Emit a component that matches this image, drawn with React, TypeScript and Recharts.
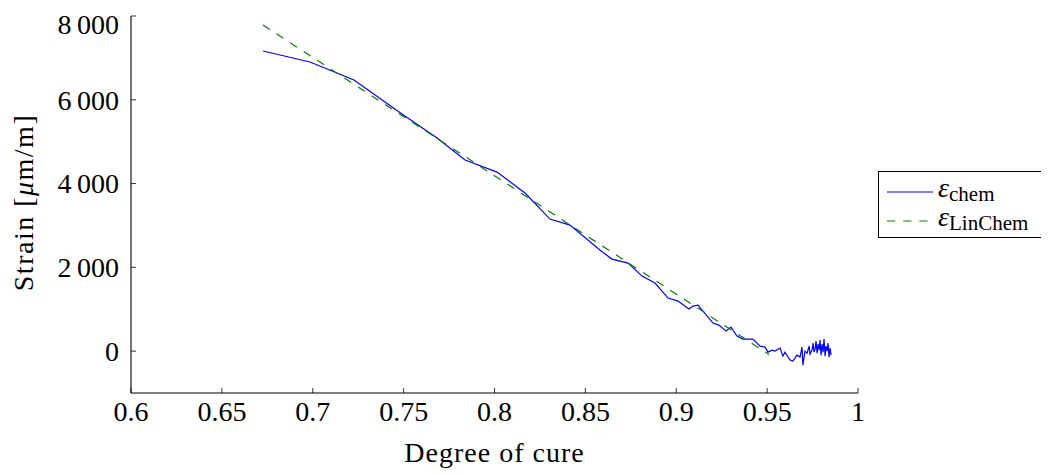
import React from 'react';
import { LineChart, Line, XAxis, YAxis, Legend } from 'recharts';

// Degree of cure (x) and chemical strain in µm/m (y)
const chemX = [
  0.6726, 0.6985, 0.7227, 0.7483, 0.7684, 0.7838, 0.8014, 0.8168, 0.8305, 0.8415,
  0.858, 0.8646, 0.8735, 0.8812, 0.8883, 0.8955, 0.901, 0.907, 0.9092, 0.912,
  0.9202, 0.9235, 0.9274, 0.9301, 0.9334, 0.9367, 0.9422, 0.9461, 0.9488, 0.9505,
  0.9527, 0.9543, 0.9571, 0.9587, 0.9598, 0.9626, 0.9642, 0.9664, 0.9681, 0.9692,
  0.9697, 0.9708, 0.972, 0.9731, 0.9736, 0.9747, 0.9753, 0.9758, 0.9764, 0.9769,
  0.9775, 0.978, 0.9786, 0.9791, 0.9797, 0.9802, 0.9808, 0.9813, 0.9819, 0.9824,
  0.983, 0.9835, 0.9841, 0.9846, 0.9852,
];
const chemY = [
  7164, 6901, 6472, 5683, 5087, 4561, 4274, 3773, 3152, 3009,
  2412, 2197, 2101, 1791, 1624, 1266, 1194, 1003, 1075, 1098,
  669, 621, 478, 573, 358, 287, 287, 119, 96, -24,
  24, 0, 72, -119, -24, -215, -239, -96, -143, 96,
  -335, 0, -48, 119, -72, 24, 191, -24, 48, 239,
  -48, 167, 24, 263, -96, 167, -24, 287, -119, 119,
  0, 191, -143, 72, -96,
];
const linChemX = [0.6726, 0.951];
const linChemY = [7785, -80];

const xTicks = [0.6, 0.65, 0.7, 0.75, 0.8, 0.85, 0.9, 0.95, 1];
const yTicks = [0, 2000, 4000, 6000, 8000];
const xLabel = 'Degree of cure';
const yLabelMain = 'Strain [';
const yLabelMu = 'μ';
const yLabelRest = 'm/m]';
const legendSubs = ['chem', 'LinChem'];

const chemData = chemX.map((x, i) => ({ x, y: chemY[i] }));
const linData = linChemX.map((x, i) => ({ x, y: linChemY[i] }));

const FONT = '"Liberation Serif", "Times New Roman", serif';
const BLUE = '#0000ff';
const GREEN = '#008000';

const fmtY = (v: number) => String(v).replace(/\B(?=(\d{3})+(?!\d))/g, '\u2009');

const YLabel = (props: any) => {
  const vb = props.viewBox || { x: 0, y: 8, width: 123, height: 377 };
  const cy = vb.y + vb.height / 2 - 2;
  const cx = 25;
  return (
    <text
      x={cx}
      y={cy}
      textAnchor="middle"
      transform={`rotate(-90, ${cx}, ${cy})`}
      fontFamily={FONT}
      fontSize={28}
      fill="#000"
      letterSpacing={1.5}
    >
      {yLabelMain}
      <tspan fontStyle="italic">{yLabelMu}</tspan>
      {yLabelRest}
    </text>
  );
};

const LegendBox = () => (
  <div style={{ position: 'absolute', left: 0, top: 0 }}>
    <svg width={167} height={68} style={{ display: 'block', overflow: 'visible' }}>
      <rect x={0.5} y={0.5} width={165} height={66} fill="#fff" stroke="#000" strokeWidth={1} />
      <line x1={9} x2={55} y1={21} y2={21} stroke={BLUE} strokeWidth={1.2} />
      <line x1={9} x2={55} y1={50} y2={50} stroke={GREEN} strokeWidth={1.2} strokeDasharray="8.2 8" />
      <text x={60} y={26} fontFamily={FONT} fill="#000">
        <tspan fontSize={28} fontStyle="italic">ε</tspan>
        <tspan fontSize={21} dy={4}>{legendSubs[0]}</tspan>
      </text>
      <text x={60} y={55} fontFamily={FONT} fill="#000">
        <tspan fontSize={28} fontStyle="italic">ε</tspan>
        <tspan fontSize={21} dy={4}>{legendSubs[1]}</tspan>
      </text>
    </svg>
  </div>
);

export default function App() {
  return (
    <LineChart
      width={1041}
      height={467}
      margin={{ top: 8, right: 191, left: 0, bottom: 0 }}
    >
      <XAxis
        type="number"
        dataKey="x"
        domain={[0.6, 1]}
        ticks={xTicks}
        allowDataOverflow
        height={82}
        tickSize={-5}
        tickMargin={13}
        tickFormatter={(v: number) => String(v)}
        tick={{ fontFamily: FONT, fontSize: 28, fill: '#000' }}
        axisLine={{ stroke: '#000', strokeWidth: 1.1 }}
        tickLine={{ stroke: '#000', strokeWidth: 0.8 }}
        label={{
          value: xLabel,
          position: 'insideBottom',
          offset: 13,
          fontFamily: FONT,
          fontSize: 28,
          fill: '#000',
          letterSpacing: 1,
        }}
      />
      <YAxis
        type="number"
        domain={[-1000, 8000]}
        ticks={yTicks}
        allowDataOverflow
        width={123}
        tickSize={-5}
        tickMargin={17}
        tickFormatter={fmtY}
        tick={{ fontFamily: FONT, fontSize: 28, fill: '#000' }}
        axisLine={{ stroke: '#000', strokeWidth: 1.1 }}
        tickLine={{ stroke: '#000', strokeWidth: 0.8 }}
        label={<YLabel />}
      />
      <Legend
        content={() => <LegendBox />}
        wrapperStyle={{ position: 'absolute', left: 870, top: 163, width: 0, height: 0, overflow: 'visible' }}
      />
      <Line
        data={chemData}
        dataKey="y"
        type="linear"
        stroke={BLUE}
        strokeWidth={1.2}
        dot={false}
        activeDot={false}
        isAnimationActive={false}
        name="chem"
      />
      <Line
        data={linData}
        dataKey="y"
        type="linear"
        stroke={GREEN}
        strokeWidth={1.2}
        strokeDasharray="8.2 8"
        dot={false}
        activeDot={false}
        isAnimationActive={false}
        name="LinChem"
      />
    </LineChart>
  );
}
